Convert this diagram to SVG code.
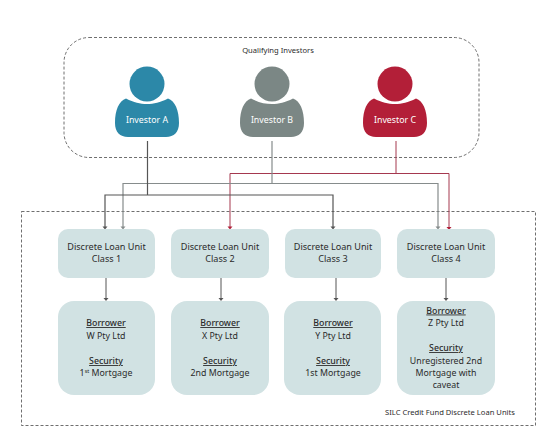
<svg xmlns="http://www.w3.org/2000/svg" width="554" height="441" viewBox="0 0 554 441">
<style>
text{font-family:"Noto Sans","Open Sans",sans-serif;font-size:8.800px;fill:#2b2b2b;text-anchor:middle}
.w{fill:#fff;font-size:8.800px}
.s{font-size:7.600px}
.t{font-size:9.100px}
.u{text-decoration:underline;font-weight:500}
.sup{font-size:5.500px}
.frame{fill:none;stroke:#4a4a4a;stroke-width:.8;stroke-dasharray:3 2}
.box{fill:#d1e2e3}
.k{fill:none;stroke:#555;stroke-width:1.200}
.l{fill:none;stroke:#555;stroke-width:1}
.g{fill:none;stroke:#868c8c;stroke-width:1.200}
.r{fill:none;stroke:#a5384f;stroke-width:1}
.a{fill:#555}
.ag{fill:#868c8c}
.ar{fill:#b01f38}
</style>
<defs>
<g id="person">
<circle cx="0" cy="84" r="17.500"/>
<path d="M-21 98.500C-13 102.500-7 104-0 104C7 104 13 102.500 21 98.500C28 101 32 110 32 123C32 132 27 137 19 137H-19C-27 137-32 132-32 123C-32 110-28 101-21 98.500Z"/>
</g>
</defs>
<g id="frames">
<rect class="frame" x="64" y="37.500" width="415" height="120" rx="25"/>
<rect class="frame" x="21.500" y="211.500" width="514" height="214"/>
<text class="s" x="278" y="52.500">Qualifying Investors</text>
<text class="s" x="450" y="414.500">SILC Credit Fund Discrete Loan Units</text>
</g>
<g id="connectors">
<path class="r" d="M396 141V173.500M230 227V173.500H449V228"/>
<path class="g" d="M272 141V183.500M123 227V183.500H438V227"/>
<path class="k" d="M147.500 141V195M105 227V195H333V227"/>
<path class="l" d="M106 278V299M221 278V299M336 278V299M446 278V299"/>
<path class="a" d="M102.500 226.500H107.500L105 229.500ZM330.500 226.500H335.500L333 229.500ZM103.500 298H108.500L106 301ZM218.500 298H223.500L221 301ZM333.500 298H338.500L336 301ZM443.500 298H448.500L446 301Z"/>
<path class="ag" d="M120.500 226.500H125.500L123 229.500ZM435.500 226.500H440.500L438 229.500Z"/>
<path class="ar" d="M227.500 226.500H232.500L230 229.500ZM446.500 227H451.500L449 230Z"/>
</g>
<g id="investor-a"><use href="#person" x="147" fill="#2c88a8"/><text class="w" x="147" y="122.500">Investor A</text></g>
<g id="investor-b"><use href="#person" x="272" fill="#7b8785"/><text class="w" x="272" y="122.500">Investor B</text></g>
<g id="investor-c"><use href="#person" x="395" fill="#b31f38"/><text class="w" x="395" y="122.500">Investor C</text></g>
<g id="unit-1"><rect class="box" x="58" y="229" width="97" height="49" rx="10"/><text class="t" x="106.500" y="250">Discrete Loan Unit</text><text class="t" x="106.500" y="262">Class 1</text></g>
<g id="unit-2"><rect class="box" x="171" y="229" width="98" height="49" rx="10"/><text class="t" x="220" y="250">Discrete Loan Unit</text><text class="t" x="220" y="262">Class 2</text></g>
<g id="unit-3"><rect class="box" x="285" y="229" width="96" height="49" rx="10"/><text class="t" x="333" y="250">Discrete Loan Unit</text><text class="t" x="333" y="262">Class 3</text></g>
<g id="unit-4"><rect class="box" x="397" y="229" width="98" height="49" rx="10"/><text class="t" x="446" y="250">Discrete Loan Unit</text><text class="t" x="446" y="262">Class 4</text></g>
<g id="detail-1"><rect class="box" x="58" y="301" width="97" height="94" rx="16"/><text class="u" x="106" y="326">Borrower</text><text x="106" y="338.500">W Pty Ltd</text><text class="u" x="106" y="364">Security</text><text x="106" y="376">1<tspan class="sup" dy="-3">st</tspan><tspan dy="3"> Mortgage</tspan></text></g>
<g id="detail-2"><rect class="box" x="171" y="301" width="98" height="94" rx="16"/><text class="u" x="220" y="326">Borrower</text><text x="220" y="338.500">X Pty Ltd</text><text class="u" x="220" y="364">Security</text><text x="220" y="376">2nd Mortgage</text></g>
<g id="detail-3"><rect class="box" x="284" y="301" width="97" height="94" rx="16"/><text class="u" x="333" y="326">Borrower</text><text x="333" y="338.500">Y Pty Ltd</text><text class="u" x="333" y="364">Security</text><text x="333" y="376">1st Mortgage</text></g>
<g id="detail-4"><rect class="box" x="397" y="301" width="98" height="94" rx="16"/><text class="u" x="446" y="313.500">Borrower</text><text x="446" y="326">Z Pty Ltd</text><text class="u" x="446" y="351">Security</text><text x="446" y="363.500">Unregistered 2nd</text><text x="446" y="376">Mortgage with</text><text x="446" y="388">caveat</text></g>
</svg>
